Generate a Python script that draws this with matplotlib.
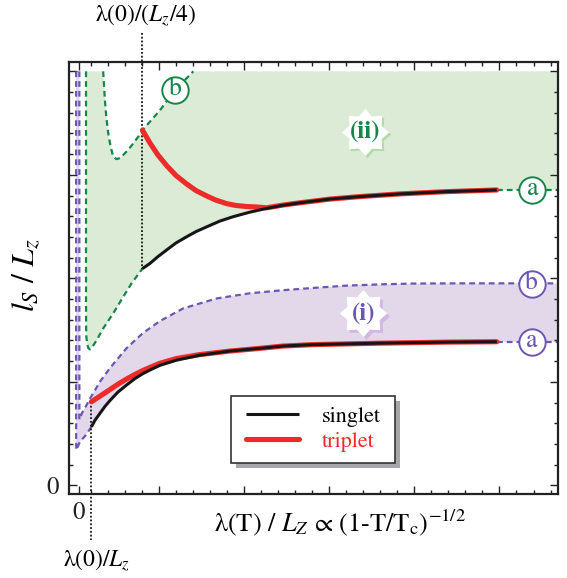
import numpy as np
import matplotlib
matplotlib.use("Agg")
import matplotlib.pyplot as plt
from matplotlib.path import Path
from matplotlib.patches import Rectangle
from matplotlib import transforms

plt.rcParams['font.family'] = ['STIXGeneral', 'DejaVu Sans']
plt.rcParams['mathtext.fontset'] = 'stix'

# axis window (x in units of lambda(0)/Lz, y in arbitrary l_S/Lz units)
XMIN, XMAX = -0.32, 28.46
YMIN, YMAX = -0.43, 20.45
TOP = 20.0

# regime (ii): upper singlet / triplet branch
x_up_s = [4.0, 4.44, 4.91, 5.42, 5.97, 6.60, 7.15, 7.78, 8.56, 9.34, 10.32, 11.31,
          12.26, 13.26, 15.03, 16.79, 19.15, 21.89, 24.84]
y_up_s = [10.47, 10.72, 11.05, 11.37, 11.71, 12.01, 12.26, 12.49, 12.77, 12.98, 13.20,
          13.38, 13.53, 13.65, 13.83, 13.95, 14.08, 14.19, 14.27]
x_up_t = [4.0, 4.44, 4.91, 5.42, 5.97, 6.60, 7.15, 7.78, 8.32, 8.95, 9.50, 10.13, 10.68,
          11.31, 12.26, 13.26, 15.03, 16.79, 19.15, 21.89, 24.84]
y_up_t = [17.16, 16.54, 15.96, 15.45, 14.97, 14.56, 14.24, 13.98, 13.78, 13.61, 13.52,
          13.47, 13.45, 13.41, 13.54, 13.65, 13.83, 13.95, 14.08, 14.19, 14.27]

# regime (ii) bounds a and b
x_ii_a = [0.68, 0.68, 0.68, 0.69, 0.74, 0.82, 0.91, 1.03, 1.31, 1.69, 2.28, 2.87, 3.36, 4.0]
y_ii_a = [20.0, 13.78, 8.95, 7.26, 6.86, 6.63, 6.57, 6.66, 7.02, 7.58, 8.31, 9.11, 9.76, 10.47]
x_ii_b = [1.69, 1.74, 1.79, 1.88, 1.99, 2.12, 2.28, 2.48, 2.68, 2.87, 3.15, 3.46, 3.74,
          4.0, 5.03, 5.91, 6.99]
y_ii_b = [20.0, 19.34, 18.61, 17.74, 17.00, 16.39, 15.87, 15.76, 15.81, 15.96, 16.20,
          16.52, 16.83, 17.16, 18.12, 19.09, 20.0]

# regime (i): lower singlet / triplet branch
x_lo_s = [1.0, 1.21, 1.50, 1.79, 2.09, 2.56, 3.07, 3.56, 4.05, 4.56, 5.03, 6.01, 7.38,
          9.15, 10.91, 12.26, 14.03, 17.97, 21.89, 24.84]
y_lo_s = [2.83, 3.15, 3.48, 3.81, 4.10, 4.51, 4.85, 5.16, 5.41, 5.62, 5.80, 6.05, 6.29,
          6.49, 6.62, 6.73, 6.80, 6.87, 6.92, 6.94]
x_lo_t = [1.0, 1.50, 2.09, 2.56, 3.07, 3.56, 4.05, 4.56, 5.03, 6.01, 7.38, 9.15, 10.91,
          12.26, 14.03, 17.97, 21.89, 24.84]
y_lo_t = [4.04, 4.31, 4.63, 4.89, 5.14, 5.36, 5.56, 5.74, 5.90, 6.13, 6.32, 6.49, 6.62,
          6.73, 6.80, 6.87, 6.92, 6.94]

# regime (i) bounds a and b
x_i_a = [0.10, 0.10, 0.11, 0.32, 0.62, 0.87, 1.0]
y_i_a = [20.0, 2.19, 1.71, 2.11, 2.38, 2.67, 2.83]
x_i_b = [0.29, 0.29, 0.44, 0.68, 0.91, 1.21, 1.50, 2.09, 3.07, 4.03, 5.03, 6.40, 8.36,
         10.32, 12.28, 14.25, 16.01, 17.97, 19.93, 22.68, 28.46]
y_i_b = [20.0, 3.18, 3.49, 3.83, 4.19, 4.60, 5.01, 5.67, 6.63, 7.36, 7.94, 8.55, 9.03,
         9.28, 9.43, 9.55, 9.65, 9.71, 9.75, 9.76, 9.76]

# markers along the bounds
ii_a_pos = (26.93, 14.27)
ii_b_pos = (5.91, 19.09)
i_a_pos = (26.90, 6.94)
i_b_pos = (26.90, 9.72)
ii_star = (17.09, 17.08)
i_star = (16.99, 8.31)

green = '#16854a'
green_fill = '#dbebd5'
purple = '#6a57b3'
purple_fill = '#e3d7ea'
red = '#ee2a2a'
black = '#161616'

fig = plt.figure(figsize=(5.67, 5.78), dpi=100)
ax = fig.add_axes([0.1217, 0.1448, 0.863, 0.7479])
ax.set_xlim(XMIN, XMAX)
ax.set_ylim(YMIN, YMAX)

# shaded regions
poly_ii = np.array([(x_ii_a[0], TOP)] + list(zip(x_ii_b, y_ii_b)) +
                   [(XMAX, TOP), (XMAX, y_up_s[-1])] +
                   list(zip(x_up_s, y_up_s))[::-1] + list(zip(x_ii_a, y_ii_a))[::-1])
ax.fill(poly_ii[:, 0], poly_ii[:, 1], color=green_fill, lw=0, zorder=1)

poly_i = np.array([(x_i_a[0], TOP)] + list(zip(x_i_b, y_i_b)) +
                  [(XMAX, y_lo_s[-1])] +
                  list(zip(x_lo_s, y_lo_s))[::-1] + list(zip(x_i_a, y_i_a))[::-1])
ax.fill(poly_i[:, 0], poly_i[:, 1], color=purple_fill, lw=0, zorder=1)

# dashed bounds
dash = dict(lw=1.6, ls=(0, (2.6, 1.8)), zorder=2)
ax.plot(x_ii_a, y_ii_a, color=green, **dash)
ax.plot(x_ii_b, y_ii_b, color=green, **dash)
ax.plot([x_up_s[-1], XMAX], [y_up_s[-1]] * 2, color=green, **dash)
ax.plot(x_i_a, y_i_a, color=purple, **dash)
ax.plot(x_i_b, y_i_b, color=purple, **dash)
ax.plot([x_lo_s[-1], XMAX], [y_lo_s[-1]] * 2, color=purple, **dash)

# dotted guides at lambda(0)/Lz and lambda(0)/(Lz/4)
dot = dict(color=black, lw=1.3, ls=(0, (1, 1.1)), clip_on=False, zorder=2)
ax.plot([x_up_s[0], x_up_s[0]], [21.85, y_up_s[0]], **dot)
ax.plot([x_lo_s[0], x_lo_s[0]], [y_lo_t[0], -2.64], **dot)

# singlet / triplet
ax.plot(x_up_t, y_up_t, color=red, lw=3.7, solid_capstyle='round', zorder=3, label='triplet')
ax.plot(x_lo_t, y_lo_t, color=red, lw=3.7, solid_capstyle='round', zorder=3)
ax.plot(x_up_s, y_up_s, color=black, lw=2.2, solid_capstyle='butt', zorder=4, label='singlet')
ax.plot(x_lo_s, y_lo_s, color=black, lw=2.2, solid_capstyle='butt', zorder=4)

# circled letters on the bounds
for (cx, cy), letter, col in [(ii_a_pos, 'a', green), (ii_b_pos, 'b', green),
                              (i_a_pos, 'a', purple), (i_b_pos, 'b', purple)]:
    ax.plot(cx, cy, 'o', ms=19, mfc='white', mec=col, mew=1.4, zorder=5)
    ax.text(cx, cy + 0.05, letter, color=col, fontsize=18.5, ha='center', va='center',
            zorder=6)

# star badges for the two regimes
ang = np.pi / 2 + np.arange(16) * np.pi / 8
rad = np.where(np.arange(16) % 2 == 0, 1.0, 0.74)
star = Path(np.column_stack([rad * np.cos(ang), rad * np.sin(ang)]))
shift = transforms.offset_copy(ax.transData, fig=fig, x=1.6, y=-1.6, units='points')
for (sx, sy), txt, col, shade in [(ii_star, '(ii)', green, '#b3dba7'),
                                  (i_star, '(i)', purple, '#d3b8e2')]:
    ax.plot(sx, sy, marker=star, ms=34, mfc=shade, mec='none', transform=shift, zorder=5)
    ax.plot(sx, sy, marker=star, ms=34, mfc='white', mec='none', zorder=5)
    ax.text(sx, sy, txt, color=col, fontsize=18, fontweight='bold',
            ha='center', va='center', zorder=6)

# legend with drop shadow
ax.add_patch(Rectangle((0.341, 0.0614), 0.336, 0.155, transform=ax.transAxes,
                       facecolor='#a7a7aa', edgecolor='none', zorder=6))
ax.add_patch(Rectangle((0.331, 0.073), 0.336, 0.155, transform=ax.transAxes,
                       facecolor='white', edgecolor='#333333', lw=1.2, zorder=7))
handles, labels = ax.get_legend_handles_labels()
leg = ax.legend(handles[::-1], labels[::-1], loc='center', bbox_to_anchor=(0.499, 0.1505),
                frameon=False, fontsize=16, handlelength=2.4, handletextpad=1.0,
                labelspacing=0.2)
leg.set_zorder(8)
leg.get_texts()[1].set_color(red)

# ticks
ax.set_xticks([0.26, 5, 10, 15, 20, 25], ['0', '', '', '', '', ''])
ax.set_xticks([i for i in range(1, 29) if i % 5], minor=True)
ax.set_yticks([0, 5, 10, 15, 20], ['0', '', '', '', ''])
ax.set_yticks([i for i in range(1, 21) if i % 5], minor=True)
ax.tick_params(which='both', direction='in', top=True, right=True, width=1.0,
               colors='#222222', labelsize=18)
ax.tick_params(which='major', length=5.5)
ax.tick_params(which='minor', length=3)
ax.tick_params(axis='x', pad=5)
ax.tick_params(axis='y', pad=7)
for s in ax.spines.values():
    s.set_linewidth(1.6)
    s.set_color('#222222')

fig.text(0.600, 0.095, 'λ(T) / $L_Z$ ∝ (1-T/T$_\\mathrm{c}$)$^{\\mathrm{-1/2}}$',
         fontsize=19, ha='center', va='center')
fig.text(0.046, 0.525, '$l_S\\ /\\ L_z$', fontsize=23, rotation=90, ha='center', va='center')
fig.text(0.257, 0.974, 'λ(0)/($L_z$/4)', fontsize=17, ha='center', va='center')
fig.text(0.171, 0.031, 'λ(0)/$L_z$', fontsize=17, ha='center', va='center')

fig.savefig('out.png', dpi=100)
